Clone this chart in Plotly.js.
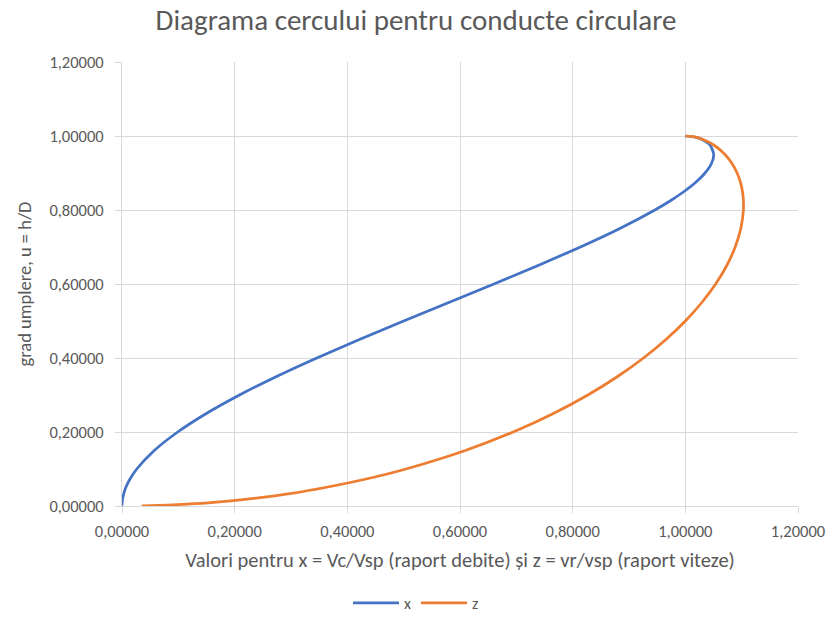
<!DOCTYPE html>
<html>
<head>
<meta charset="utf-8">
<script src="https://cdn.plot.ly/plotly-3.0.1.min.js"></script>
<style>
html,body{margin:0;padding:0;background:#fff;}
#chart{width:832px;height:620px;}
</style>
</head>
<body>
<div id="chart"></div>
<script>
// grad umplere u = h/D
const uVals = [0.0005, 0.0025, 0.005, 0.01, 0.02, 0.035, 0.05, 0.075, 0.10, 0.15, 0.20, 0.25, 0.30, 0.35, 0.40, 0.45, 0.50, 0.55, 0.60, 0.65, 0.70, 0.75, 0.80, 0.825, 0.85, 0.875, 0.90, 0.925, 0.95, 0.975, 0.99, 0.995, 0.999, 1.00];
// x = Vc/Vsp (raport debite)
const xVals = [0.0000, 0.0000, 0.0001, 0.0003, 0.0011, 0.0034, 0.0067, 0.0150, 0.0262, 0.0573, 0.0989, 0.1497, 0.2086, 0.2744, 0.3458, 0.4214, 0.5000, 0.5801, 0.6602, 0.7387, 0.8139, 0.8838, 0.9460, 0.9734, 0.9978, 1.0186, 1.0350, 1.0462, 1.0504, 1.0442, 1.0309, 1.0224, 1.0101, 1.0000];
// z = vr/vsp (raport viteze)
const zVals = [0.0350, 0.0816, 0.1153, 0.1629, 0.2299, 0.3044, 0.3608, 0.4393, 0.5041, 0.6095, 0.6945, 0.7658, 0.8269, 0.8798, 0.9257, 0.9656, 1.0000, 1.0293, 1.0538, 1.0736, 1.0885, 1.0985, 1.1031, 1.1031, 1.1014, 1.0978, 1.0919, 1.0831, 1.0704, 1.0512, 1.0326, 1.0230, 1.0102, 1.0000];
const xTicks = [0, 0.2, 0.4, 0.6, 0.8, 1.0, 1.2];
const yTicks = [0, 0.2, 0.4, 0.6, 0.8, 1.0, 1.2];

const fontFam = "Carlito, 'Liberation Sans', Arial, sans-serif";
const grey = '#595959';
const gridC = '#d9d9d9';

const traces = [
  {x: xVals, y: uVals, name: 'x', mode: 'lines', type: 'scatter',
   line: {color: '#4472C4', width: 2.75, shape: 'spline', smoothing: 0.6}},
  {x: zVals, y: uVals, name: 'z', mode: 'lines', type: 'scatter',
   line: {color: '#ED7D31', width: 2.75, shape: 'spline', smoothing: 0.6}}
];

const layout = {
  width: 832, height: 620,
  paper_bgcolor: '#ffffff', plot_bgcolor: '#ffffff',
  separators: ',.',
  font: {family: fontFam, color: grey, size: 16},
  margin: {l: 122, r: 34, t: 62, b: 114},
  title: {text: 'Diagrama cercului pentru conducte circulare',
          font: {size: 29, color: grey, family: fontFam},
          x: 0.5, xref: 'container', xanchor: 'center',
          y: 1 - 20/620, yref: 'container', yanchor: 'middle'},
  xaxis: {range: [0, 1.2], tickvals: xTicks, tickformat: '.5f',
          showgrid: true, gridcolor: gridC, gridwidth: 1,
          zeroline: false, showline: true, linecolor: gridC,
          ticks: 'outside', ticklen: 6, tickcolor: gridC,
          ticklabelstandoff: 4,
          tickfont: {size: 16.5, color: grey},
          title: {text: 'Valori pentru x = Vc/Vsp (raport debite) și z = vr/vsp (raport viteze)',
                  font: {size: 20.5, color: grey}, standoff: 12}},
  yaxis: {range: [0, 1.2], tickvals: yTicks, tickformat: '.5f',
          showgrid: true, gridcolor: gridC, gridwidth: 1,
          zeroline: false, showline: true, linecolor: gridC,
          ticks: 'outside', ticklen: 6, tickcolor: gridC,
          ticklabelstandoff: 8,
          tickfont: {size: 16.5, color: grey},
          title: {text: 'grad umplere, u = h/D',
                  font: {size: 18.5, color: grey}, standoff: 12}},
  showlegend: true,
  legend: {orientation: 'h', x: 0.5, xref: 'container', xanchor: 'center',
           y: 0, yref: 'container', yanchor: 'bottom',
           itemwidth: 46, tracegroupgap: 0,
           font: {size: 16, color: grey}, bgcolor: 'rgba(0,0,0,0)'}
};

Plotly.newPlot('chart', traces, layout, {displayModeBar: false, staticPlot: true});
</script>
</body>
</html>
